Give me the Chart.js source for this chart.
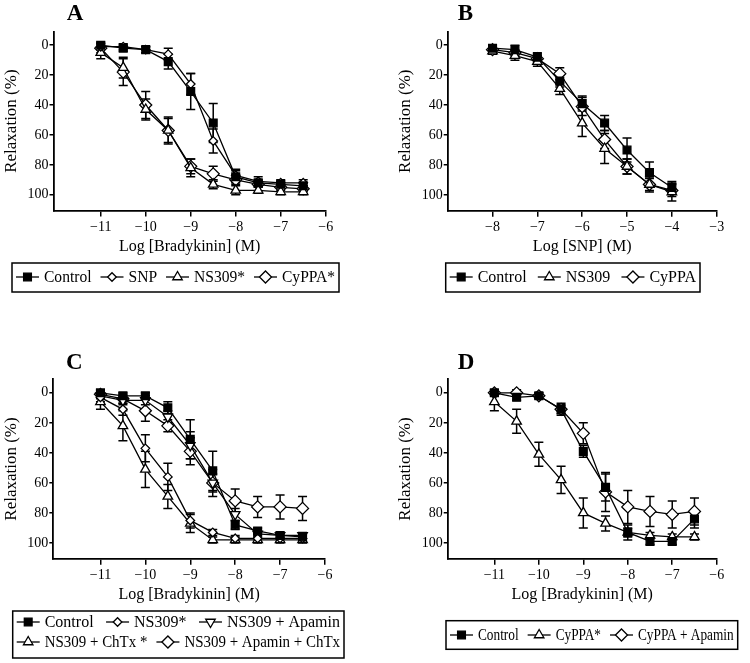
<!DOCTYPE html>
<html>
<head>
<meta charset="utf-8">
<script src="https://cdn.jsdelivr.net/npm/chart.js@4.4.0/dist/chart.umd.min.js"></script>
<style>
  html, body { margin: 0; padding: 0; background: #fff; }
  #wrap { position: relative; width: 750px; height: 663px; }
  canvas { position: absolute; }
</style>
</head>
<body>
<div id="wrap">
  <canvas id="panelA" width="375" height="300" style="left:0;top:0"></canvas>
  <canvas id="panelB" width="375" height="300" style="left:375px;top:0"></canvas>
  <canvas id="panelC" width="375" height="333" style="left:0;top:330px"></canvas>
  <canvas id="panelD" width="375" height="333" style="left:375px;top:330px"></canvas>
</div>
<script>
// doses (log M)
const bkDoses = [-11, -10.5, -10, -9.5, -9, -8.5, -8, -7.5, -7, -6.5];
const snpDoses = [-8, -7.5, -7, -6.5, -6, -5.5, -5, -4.5, -4];

// tick labels
const yTickValues = [0, 20, 40, 60, 80, 100];
const bkTicks = [-11, -10, -9, -8, -7, -6];
const snpTicks = [-8, -7, -6, -5, -4, -3];

// panel A: bradykinin
const aControl = [0, 2, 3, 11, 31, 52, 88, 92, 93, 94];
const aControlErr = [2, 2, 2, 5, 12, 13, 4, 2, 2, 2];
const aSNP = [1, 1, 3, 6, 26, 64, 87, 91, 92, 92];
const aSNPErr = [2, 2, 2, 4, 7, 8, 4, 3, 2, 2];
const aNS309 = [5, 15, 43, 57, 82, 93, 97, 97, 98, 98];
const aNS309Err = [4, 7, 7, 8, 6, 3, 3, 2, 2, 2];
const aCyPPA = [2, 18, 40, 57, 81, 86, 90, 93, 95, 96];
const aCyPPAErr = [3, 9, 9, 9, 5, 5, 3, 2, 2, 2];

// panel B: SNP
const bControl = [2, 3, 8, 24, 39, 52, 70, 85, 95];
const bControlErr = [2, 3, 3, 4, 5, 5, 8, 7, 4];
const bNS309 = [4, 7, 11, 29, 52, 69, 81, 93, 98];
const bNS309Err = [2, 3, 3, 4, 9, 10, 5, 5, 6];
const bCyPPA = [3, 5, 9, 19, 41, 63, 81, 93, 97];
const bCyPPAErr = [2, 2, 2, 4, 6, 6, 5, 4, 4];

// panel C: NS309 + blockers
const cControl = [0, 2, 2, 10, 31, 52, 88, 92, 95, 96];
const cControlErr = [2, 2, 2, 4, 13, 13, 3, 2, 2, 2];
const cNS309 = [3, 11, 37, 56, 85, 93, 97, 97, 97, 97];
const cNS309Err = [3, 4, 9, 9, 5, 2, 2, 2, 2, 2];
const cNS309Apa = [2, 5, 5, 16, 35, 60, 81, 94, 95, 95];
const cNS309ApaErr = [2, 3, 3, 4, 9, 6, 4, 2, 2, 2];
const cNS309ChTx = [6, 22, 51, 69, 87, 98, 98, 98, 98, 98];
const cNS309ChTxErr = [5, 10, 12, 8, 6, 2, 2, 2, 2, 2];
const cNS309ApaChTx = [1, 4, 12, 22, 39, 60, 72, 76, 76, 77];
const cNS309ApaChTxErr = [2, 3, 7, 4, 9, 9, 8, 7, 8, 8];

// panel D: CyPPA + apamin
const dControl = [0, 3, 2, 11, 39, 63, 93, 99, 99, 84];
const dControlErr = [2, 2, 2, 3, 4, 9, 5, 2, 2, 6];
const dCyPPA = [6, 19, 41, 58, 80, 87, 93, 95, 96, 96];
const dCyPPAErr = [6, 8, 8, 9, 10, 5, 3, 2, 2, 2];
const dCyPPAApa = [0, 0, 2, 11, 27, 66, 76, 79, 81, 79];
const dCyPPAApaErr = [2, 2, 2, 4, 7, 13, 11, 10, 9, 9];

Chart.defaults.font.family = '"Liberation Serif", "Times New Roman", serif';
Chart.defaults.color = '#000';

// marker styles
const marks = {
  square: { pointStyle: 'rect', radius: 5.5, fill: '#000', rotation: 0 },
  smallDiamond: { pointStyle: 'rectRot', radius: 4.3, fill: '#fff', rotation: 0 },
  triangle: { pointStyle: 'triangle', radius: 5.5, fill: '#fff', rotation: 0 },
  triangleDown: { pointStyle: 'triangle', radius: 5.5, fill: '#fff', rotation: 180 },
  diamond: { pointStyle: 'rectRot', radius: 6, fill: '#fff', rotation: 0 }
};

function serie(label, doses, values, errors, mark) {
  return {
    label,
    data: doses.map((x, i) => ({ x, y: values[i] })),
    errors,
    mark,
    borderColor: '#000',
    borderWidth: 1.3,
    tension: 0,
    fill: false,
    pointStyle: mark.pointStyle,
    pointRotation: mark.rotation,
    pointRadius: mark.radius,
    pointBackgroundColor: mark.fill,
    pointBorderColor: '#000',
    pointBorderWidth: 1.3
  };
}

// error bars, drawn below lines and markers
const errorBars = {
  id: 'errorBars',
  beforeDatasetsDraw(chart) {
    const { ctx, scales: { x, y } } = chart;
    ctx.save();
    ctx.strokeStyle = '#000';
    ctx.lineWidth = 1.5;
    chart.data.datasets.forEach(ds => {
      ds.data.forEach((p, j) => {
        const e = ds.errors[j];
        const px = x.getPixelForValue(p.x);
        const y1 = y.getPixelForValue(p.y - e);
        const y2 = y.getPixelForValue(p.y + e);
        ctx.beginPath();
        ctx.moveTo(px, y1); ctx.lineTo(px, y2);
        ctx.moveTo(px - 4.5, y1); ctx.lineTo(px + 4.5, y1);
        ctx.moveTo(px - 4.5, y2); ctx.lineTo(px + 4.5, y2);
        ctx.stroke();
      });
    });
    ctx.restore();
  }
};

// framed legend + panel letter
const boxLegend = {
  id: 'boxLegend',
  afterDraw(chart, args, opts) {
    const ctx = chart.ctx;
    ctx.save();
    ctx.font = 'bold 23px "Liberation Serif"';
    ctx.fillStyle = '#000';
    ctx.textAlign = 'center';
    ctx.textBaseline = 'middle';
    ctx.fillText(opts.letter, opts.letterX, opts.letterY);

    ctx.lineWidth = 1.5;
    ctx.strokeStyle = '#000';
    ctx.strokeRect(opts.x, opts.y, opts.w, opts.h);

    ctx.font = '16px "Liberation Serif"';
    ctx.textAlign = 'left';
    const SYM = 23, GAP = 5, PADL = 4, PADR = 4, MINGAP = 9;
    opts.rows.forEach((row, r) => {
      const cy = opts.y + opts.rowY[r];
      const items = row.map(i => chart.data.datasets[i]);
      let textW = items.map(d => ctx.measureText(d.label).width);
      const n = items.length;
      const free = opts.w - PADL - PADR - n * (SYM + GAP);
      const natural = textW.reduce((a, b) => a + b, 0);
      let space = n > 1 ? (free - natural) / (n - 1) : 0;
      if (n > 1 && space < MINGAP) {
        // squeeze the text like the original does
        const f = (free - (n - 1) * MINGAP) / natural;
        textW = textW.map(t => t * f);
        space = MINGAP;
      }
      let sx = opts.x + PADL;
      items.forEach((d, k) => {
        ctx.lineWidth = 1.3;
        ctx.beginPath();
        ctx.moveTo(sx, cy); ctx.lineTo(sx + SYM, cy);
        ctx.stroke();
        ctx.fillStyle = d.mark.fill;
        Chart.helpers.drawPoint(ctx, {
          pointStyle: d.mark.pointStyle,
          rotation: d.mark.rotation,
          radius: d.mark.radius,
          borderWidth: 1.3
        }, sx + SYM / 2, cy);
        ctx.fillStyle = '#000';
        ctx.fillText(d.label, sx + SYM + GAP, cy + 1, textW[k]);
        sx += SYM + GAP + textW[k] + space;
      });
    });
    ctx.restore();
  }
};

function minusLabel(v) {
  return v < 0 ? '\u2212' + Math.abs(v) : String(v);
}

function makeChart(id, datasets, xMin, xMax, xTicks, xTitle, padding, legend) {
  new Chart(document.getElementById(id), {
    type: 'line',
    data: { datasets },
    plugins: [errorBars, boxLegend],
    options: {
      responsive: false,
      animation: false,
      events: [],
      devicePixelRatio: 1,
      layout: { padding },
      plugins: {
        legend: { display: false },
        tooltip: { enabled: false },
        boxLegend: legend
      },
      scales: {
        x: {
          type: 'linear',
          min: xMin,
          max: xMax,
          afterBuildTicks: s => { s.ticks = xTicks.map(v => ({ value: v })); },
          afterFit: s => { s.height = 45.5; },
          grid: { drawOnChartArea: false, drawTicks: true, tickLength: 6, color: '#000', lineWidth: 1.5 },
          border: { display: true, color: '#000', width: 1.8 },
          ticks: { font: { size: 14 }, padding: 2, color: '#000', autoSkip: false, maxRotation: 0, callback: minusLabel },
          title: { display: true, text: xTitle, font: { size: 16 }, padding: 0, color: '#000' }
        },
        y: {
          type: 'linear',
          reverse: true,
          min: -9,
          max: 110.5,
          afterBuildTicks: s => { s.ticks = yTickValues.map(v => ({ value: v })); },
          afterFit: s => { s.width = 52; },
          grid: { drawOnChartArea: false, drawTicks: true, tickLength: 4, color: '#000', lineWidth: 1.5 },
          border: { display: true, color: '#000', width: 1.8 },
          ticks: { font: { size: 14 }, padding: 1, color: '#000', callback: v => String(v) },
          title: { display: true, text: 'Relaxation (%)', font: { size: 17 }, padding: 0, color: '#000' }
        }
      }
    }
  });
}

makeChart('panelA', [
  serie('Control', bkDoses, aControl, aControlErr, marks.square),
  serie('SNP', bkDoses, aSNP, aSNPErr, marks.smallDiamond),
  serie('NS309*', bkDoses, aNS309, aNS309Err, marks.triangle),
  serie('CyPPA*', bkDoses, aCyPPA, aCyPPAErr, marks.diamond)
], -12.05, -6, bkTicks, 'Log [Bradykinin] (M)',
  { left: 1.5, right: 49.3, top: 31.7, bottom: 44 },
  { letter: 'A', letterX: 75, letterY: 14, x: 12, y: 263, w: 327, h: 29, rows: [[0, 1, 2, 3]], rowY: [14] });

makeChart('panelB', [
  serie('Control', snpDoses, bControl, bControlErr, marks.square),
  serie('NS309', snpDoses, bNS309, bNS309Err, marks.triangle),
  serie('CyPPA', snpDoses, bCyPPA, bCyPPAErr, marks.diamond)
], -9, -3, snpTicks, 'Log [SNP] (M)',
  { left: 20.7, right: 33.3, top: 31.7, bottom: 43.8 },
  { letter: 'B', letterX: 90.3, letterY: 14, x: 70.7, y: 263, w: 254.3, h: 29, rows: [[0, 1, 2]], rowY: [14] });

makeChart('panelC', [
  serie('Control', bkDoses, cControl, cControlErr, marks.square),
  serie('NS309*', bkDoses, cNS309, cNS309Err, marks.smallDiamond),
  serie('NS309 + Apamin', bkDoses, cNS309Apa, cNS309ApaErr, marks.triangleDown),
  serie('NS309 + ChTx *', bkDoses, cNS309ChTx, cNS309ChTxErr, marks.triangle),
  serie('NS309 + Apamin + ChTx', bkDoses, cNS309ApaChTx, cNS309ApaChTxErr, marks.diamond)
], -12.05, -6, bkTicks, 'Log [Bradykinin] (M)',
  { left: 1.3, right: 50, top: 49.3, bottom: 58.8 },
  { letter: 'C', letterX: 74.2, letterY: 33.5, x: 12.7, y: 281, w: 331.3, h: 47, rows: [[0, 1, 2], [3, 4]], rowY: [11, 31] });

makeChart('panelD', [
  serie('Control', bkDoses, dControl, dControlErr, marks.square),
  serie('CyPPA*', bkDoses, dCyPPA, dCyPPAErr, marks.triangle),
  serie('CyPPA + Apamin', bkDoses, dCyPPAApa, dCyPPAApaErr, marks.diamond)
], -12.05, -6, bkTicks, 'Log [Bradykinin] (M)',
  { left: 20.7, right: 33.3, top: 49.3, bottom: 58.8 },
  { letter: 'D', letterX: 91, letterY: 33.5, x: 71, y: 290.7, w: 291.7, h: 28.6, rows: [[0, 1, 2]], rowY: [14.3] });
</script>
</body>
</html>
